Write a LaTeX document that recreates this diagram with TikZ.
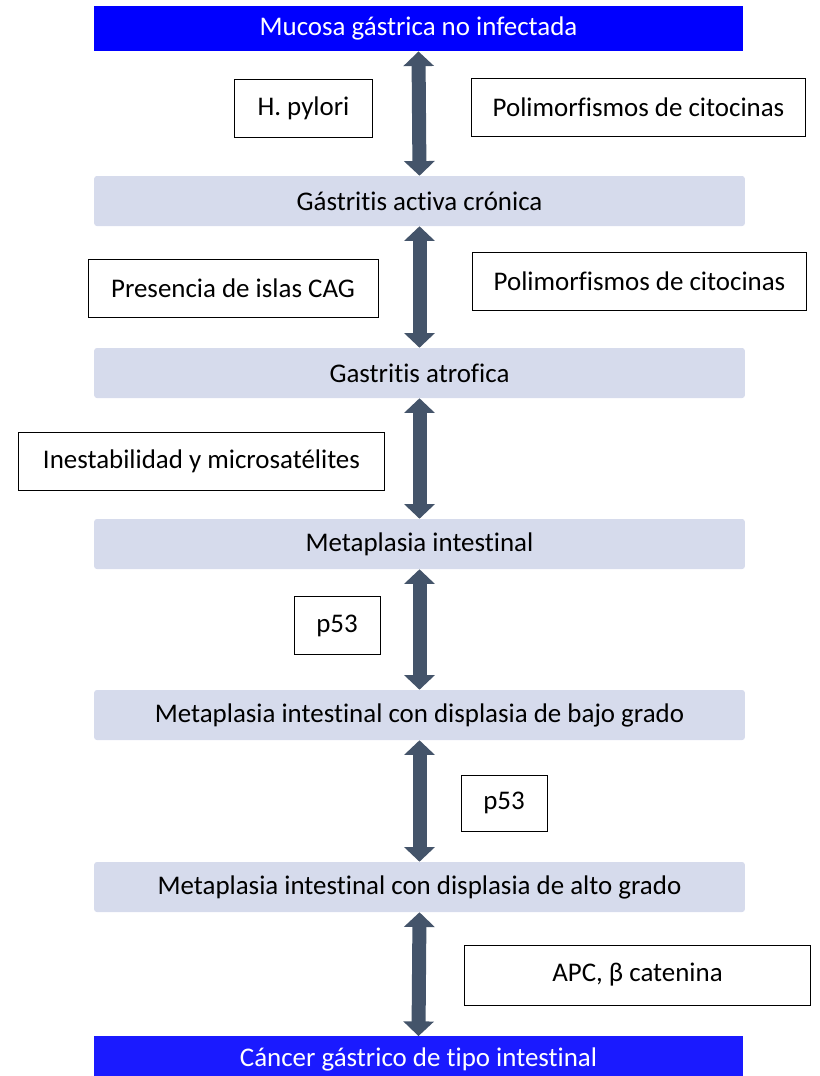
\documentclass[tikz,border=0pt]{standalone}
\usepackage{fontspec}
\setmainfont[Ligatures=NoCommon]{Carlito}
\usetikzlibrary{arrows.meta}
\definecolor{barblue}{RGB}{0,0,255}
\definecolor{barblue2}{RGB}{26,26,255}
\definecolor{stagegray}{RGB}{214,219,236}
\definecolor{arrowslate}{RGB}{68,84,106}
\tikzset{
  stage/.style={fill=stagegray,draw=none,rounded corners=2pt,minimum width=488pt,minimum height=37.5pt,inner sep=0pt,font=\fontsize{20.2}{23}\selectfont},
  endstage/.style={fill=barblue,draw=none,text=white,minimum width=487pt,minimum height=34pt,inner sep=0pt,font=\fontsize{20.2}{23}\selectfont},
  factor/.style={draw=black,line width=0.6pt,fill=white,inner sep=0pt,font=\fontsize{20.2}{23}\selectfont},
  link/.style={draw=arrowslate,line width=10.5pt,{Triangle[width=22.5pt,length=11pt]}-{Triangle[width=22.5pt,length=11pt]}}
}
\begin{document}
\begin{tikzpicture}[x=0.75pt,y=0.75pt,yscale=-1,xscale=1]
\useasboundingbox (0,0) rectangle (819,1076);

% stages
\node [endstage] (mucosa) at (418.5,28.5) {Mucosa gástrica no infectada};
\node [stage] (activa) at (419.5,201) {Gástritis activa crónica};
\node [stage] (atrofica) at (419.5,373) {Gastritis atrofica};
\node [stage] (metap) at (419.5,544) {Metaplasia intestinal};
\node [stage] (bajo) at (419.5,715) {Metaplasia intestinal con displasia de bajo grado};
\node [stage] (alto) at (419.5,887) {Metaplasia intestinal con displasia de alto grado};
\node [endstage,fill=barblue2] (cancer) at (418.5,1059) {Cáncer gástrico de tipo intestinal};

% arrows between stages
\draw [link] (mucosa.south) -- (activa.north);
\draw [link] (activa.south) -- (atrofica.north);
\draw [link] (atrofica.south) -- (metap.north);
\draw [link] (metap.south) -- (bajo.north);
\draw [link] (bajo.south) -- (alto.north);
\draw [link] (alto.south) -- (cancer.north);

% Text Node
\node [factor,minimum width=103pt,minimum height=43pt] (pylori) at (303.5,108.5) {H. pylori};
% Text Node
\node [factor,minimum width=251pt,minimum height=43.5pt] (poli1) at (638.5,107) {Polimorfismos de citocinas};
% Text Node
\node [factor,minimum width=217.5pt,minimum height=44pt] (cag) at (233,288.5) {Presencia de islas CAG};
% Text Node
\node [factor,minimum width=251pt,minimum height=44pt] (poli2) at (639.5,281.5) {Polimorfismos de citocinas};
% Text Node
\node [factor,minimum width=275pt,minimum height=43.5pt] (inest) at (201.5,461) {Inestabilidad y microsatélites};
% Text Node
\node [factor,minimum width=64.5pt,minimum height=44pt] (p53a) at (337,625.5) {p53};
% Text Node
\node [factor,minimum width=64.5pt,minimum height=42pt] (p53b) at (504,803) {p53};
% Text Node
\node [factor,minimum width=260pt,minimum height=45pt] (apc) at (637.5,975) {APC, β catenina};

\end{tikzpicture}
\end{document}
